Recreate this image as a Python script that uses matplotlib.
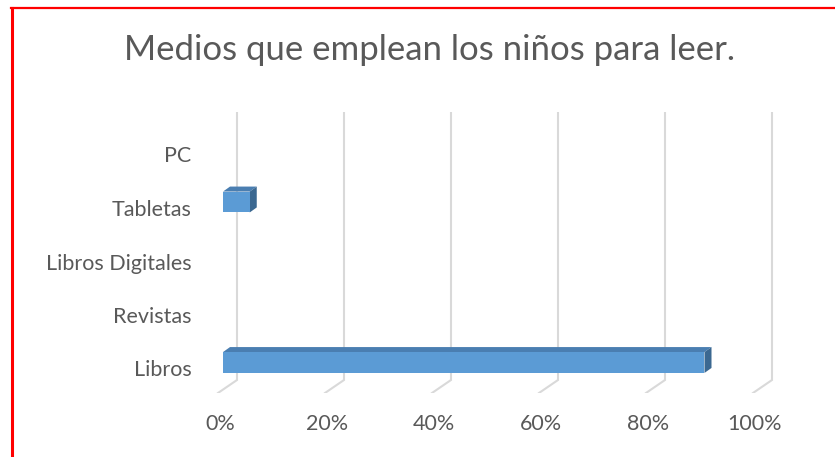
import matplotlib
matplotlib.use("Agg")
import matplotlib.pyplot as plt
import matplotlib.transforms as mtransforms
from matplotlib.lines import Line2D
from matplotlib.patches import Polygon

# data
categories = ['Libros', 'Revistas', 'Libros Digitales', 'Tabletas', 'PC']
values = [90, 0, 0, 5, 0]
x_ticks = [0, 20, 40, 60, 80, 100]
x_tick_labels = ['0%', '20%', '40%', '60%', '80%', '100%']
title = 'Medios que emplean los niños para leer.'

FRONT = '#5b9bd5'
TOP = '#4a7eb1'
SIDE = '#3b6891'
GRID = '#d9d9d9'
TEXT = '#595959'
W, H, DPI = 835, 457, 100

plt.rcParams['font.family'] = ['Lato', 'DejaVu Sans']

fig = plt.figure(figsize=(W / DPI, H / DPI), dpi=DPI, facecolor='white')
# axes box in pixels: left 200, right 780, top 112, bottom 393
ax = fig.add_axes([200 / W, (H - 393) / H, 580 / W, 281 / H])
ax.set_xlim(-23 / 5.35, 557 / 5.35)
ax.set_ylim((362.5 - 393) / 53.5, (362.5 - 112) / 53.5)
for s in ax.spines.values():
    s.set_visible(False)

# pseudo 3D depth in pixels
depth_dx, depth_dy = 7, 5
wall_dx, floor_dx, floor_dy = 14, -5, 13

# back wall grid lines + floor diagonals
blend = mtransforms.blended_transform_factory(ax.transData, ax.transAxes)
ident = mtransforms.IdentityTransform()
for t in x_ticks:
    top = blend.transform((t, 1.0))
    bot = blend.transform((t, 0.0))
    xs = [top[0] + wall_dx, top[0] + wall_dx, bot[0] + floor_dx]
    ys = [top[1], bot[1] + floor_dy, bot[1]]
    ax.plot(xs, ys, color=GRID, lw=1.5, transform=ident, zorder=1,
            solid_joinstyle='miter')

# bars: front face via barh, top/side faces as extruded polygons
bar_h = 0.39
ys_pos = list(range(len(categories)))
ax.barh(ys_pos, values, height=bar_h, color=FRONT, zorder=3, linewidth=0)
for y, v in zip(ys_pos, values):
    if v <= 0:
        continue
    p0 = ax.transData.transform((0, y + bar_h / 2))
    p1 = ax.transData.transform((v, y + bar_h / 2))
    p2 = ax.transData.transform((v, y - bar_h / 2))
    top_face = [p0, p1, (p1[0] + depth_dx, p1[1] + depth_dy), (p0[0] + depth_dx, p0[1] + depth_dy)]
    side_face = [p2, p1, (p1[0] + depth_dx, p1[1] + depth_dy), (p2[0] + depth_dx, p2[1] + depth_dy)]
    ax.add_patch(Polygon(top_face, closed=True, facecolor=TOP, edgecolor='none',
                         transform=ident, zorder=2))
    ax.add_patch(Polygon(side_face, closed=True, facecolor=SIDE, edgecolor='none',
                         transform=ident, zorder=2))

ax.set_xticks(x_ticks, x_tick_labels)
ax.set_yticks(ys_pos, categories)
ax.tick_params(length=0, labelsize=15.5, labelcolor=TEXT)
ax.tick_params(axis='x', pad=15)
ax.tick_params(axis='y', pad=6)
for lab in ax.get_xticklabels():
    lab.set_transform(lab.get_transform() + mtransforms.ScaledTranslation(-3 / DPI, 0, fig.dpi_scale_trans))
for lab in ax.get_yticklabels():
    lab.set_transform(lab.get_transform() + mtransforms.ScaledTranslation(0, -6 / DPI, fig.dpi_scale_trans))

fig.text(430 / W, (H - 60) / H, title, ha='center', va='baseline', fontsize=25,
         color=TEXT)

# red frame (left and top edges)
fig.add_artist(Line2D([12 / W, 12 / W], [0, (H - 8) / H], color='red', lw=2.2,
                      transform=fig.transFigure))
fig.add_artist(Line2D([11 / W, 1], [(H - 8) / H, (H - 8) / H], color='red', lw=1.6,
                      transform=fig.transFigure))

fig.savefig('out.png', dpi=DPI, facecolor='white')
